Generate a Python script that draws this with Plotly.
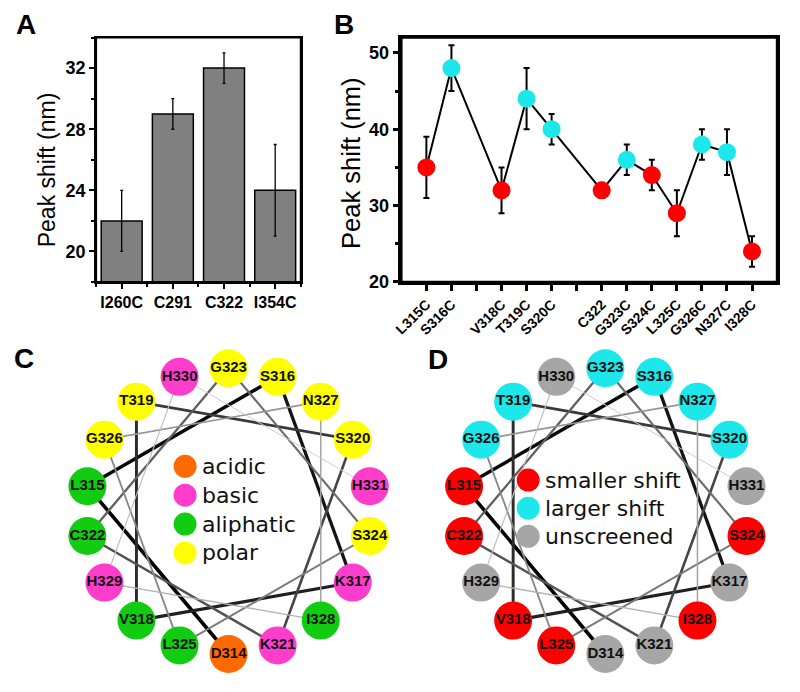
import math
import plotly.graph_objects as go

FONT = "Liberation Sans, Arial, sans-serif"
LEG_FONT = "DejaVu Sans, Liberation Sans, sans-serif"

# ---------------- Panel A data ----------------
a_labels = ["I260C", "C291", "C322", "I354C"]
a_values = [22, 29, 32, 24]
a_err = [2, 1, 1, 3]

# ---------------- Panel B data ----------------
b_residues = [315, 316, 318, 319, 320, 322, 323, 324, 325, 326, 327, 328]
b_labels = ["L315C", "S316C", "V318C", "T319C", "S320C", "C322",
            "G323C", "S324C", "L325C", "G326C", "N327C", "I328C"]
b_values = [35, 48, 32, 44, 40, 32, 36, 34, 29, 38, 37, 24]
b_err = [4, 3, 3, 4, 2, 1, 2, 2, 3, 2, 3, 2]
b_group = ["smaller", "larger", "smaller", "larger", "larger", "smaller",
           "larger", "smaller", "smaller", "larger", "larger", "smaller"]

# ---------------- Helical wheel data ----------------
wheel_names = ["D314", "L315", "S316", "K317", "V318", "T319", "S320", "K321", "C322",
               "G323", "S324", "L325", "G326", "N327", "I328", "H329", "H330", "H331"]
wheel_class = ["acidic", "aliphatic", "polar", "basic", "aliphatic", "polar", "polar", "basic",
               "aliphatic", "polar", "polar", "aliphatic", "polar", "polar", "aliphatic",
               "basic", "basic", "basic"]
wheel_shift = ["unscreened", "smaller shift", "larger shift", "unscreened", "smaller shift",
               "larger shift", "larger shift", "unscreened", "smaller shift", "larger shift",
               "smaller shift", "smaller shift", "larger shift", "larger shift", "smaller shift",
               "unscreened", "unscreened", "unscreened"]

class_order = ["acidic", "basic", "aliphatic", "polar"]
shift_order = ["smaller shift", "larger shift", "unscreened"]

class_colors = {"acidic": "#FF6A00", "basic": "#FF3DCC", "aliphatic": "#11CC11", "polar": "#FFFF00"}
shift_colors = {"smaller shift": "#FF0000", "larger shift": "#1CE8EC", "unscreened": "#A6A6A6"}
group_colors = {"smaller": "#FF0000", "larger": "#1CE8EC"}

# the page places the figure 8 px right and 8 px down; positions below are screen pixels
W, H, OFF = 800, 692, 8


def px_x(p):
    return (p - OFF) / W


def px_y(p):
    return 1 - (p - OFF) / H


fig = go.Figure()

# ---------------- Panel A ----------------
a_x = list(range(len(a_labels)))
fig.add_trace(go.Bar(
    x=a_x, y=a_values, width=0.8,
    marker=dict(color="#808080", line=dict(color="black", width=1.5)),
    error_y=dict(type="data", array=a_err, color="black", thickness=1.3, width=1.5),
    xaxis="x", yaxis="y", showlegend=False,
))

# ---------------- Panel B ----------------
fig.add_trace(go.Scatter(
    x=b_residues, y=b_values, mode="lines+markers",
    line=dict(color="black", width=2),
    marker=dict(size=18, color=[group_colors[g] for g in b_group], line=dict(width=0)),
    error_y=dict(type="data", array=b_err, color="black", thickness=2, width=3),
    xaxis="x2", yaxis="y2", showlegend=False, cliponaxis=False,
))

# ---------------- Panels C & D (helical wheels, screen-pixel coordinates) ----------------
R = 145
centers = [(222, 518.5), (603, 518.5)]
color_sets = [[class_colors[c] for c in wheel_class], [shift_colors[s] for s in wheel_shift]]

nseg = len(wheel_names) - 1
for (cx, cy), cols in zip(centers, color_sets):
    xs, ys = [], []
    for name in wheel_names:
        n = int(name[1:])
        th = math.radians(270 - 100 * (n - 314))
        xs.append(cx + R * math.cos(th))
        ys.append(cy - R * math.sin(th))
    for i in range(nseg):
        t = i / (nseg - 1)
        g = int(205 * t ** 1.1)
        w = 3.6 - 2.6 * t
        fig.add_trace(go.Scatter(
            x=[xs[i], xs[i + 1]], y=[ys[i], ys[i + 1]], mode="lines",
            line=dict(color=f"rgb({g},{g},{g})", width=w),
            xaxis="x3", yaxis="y3", showlegend=False, hoverinfo="skip",
        ))
    fig.add_trace(go.Scatter(
        x=xs, y=ys, mode="markers+text", text=wheel_names,
        textposition="middle center",
        textfont=dict(family=FONT, size=15, color="#111111", weight="bold"),
        marker=dict(size=38, color=cols, line=dict(width=0)),
        xaxis="x3", yaxis="y3", showlegend=False, cliponaxis=False,
    ))

leg_specs = [
    (178, 473, 29.3, class_order, class_colors, 193),
    (525, 487, 28.5, shift_order, shift_colors, 540),
]
annotations = []
for lx, ly, dy, order, cmap, tx in leg_specs:
    lys = [ly + k * dy for k in range(len(order))]
    fig.add_trace(go.Scatter(
        x=[lx] * len(order), y=lys, mode="markers",
        marker=dict(size=23, color=[cmap[o] for o in order], line=dict(width=0)),
        xaxis="x3", yaxis="y3", showlegend=False, cliponaxis=False,
    ))
    for o, yy in zip(order, lys):
        annotations.append(dict(
            x=tx, y=yy, xref="x3", yref="y3", text=o, showarrow=False,
            xanchor="left", yanchor="middle",
            font=dict(family=LEG_FONT, size=22, color="#111111"),
        ))

# panel letters (top ones anchored to the very top of the figure)
for letter, px, py, anchor in [("A", 17, 8, "top"), ("B", 339, 8, "top"),
                               ("C", 15, 364, "middle"), ("D", 434, 365, "middle")]:
    annotations.append(dict(
        x=px_x(px), y=px_y(py), xref="paper", yref="paper", text=letter,
        showarrow=False, xanchor="center", yanchor=anchor, borderpad=0,
        font=dict(family=FONT, size=28, color="black", weight="bold"),
    ))

for px, py, size in [(38, 172, 23), (346, 166, 25.5)]:
    annotations.append(dict(
        x=px_x(px), y=px_y(py), xref="paper", yref="paper",
        text="Peak shift (nm)", textangle=-90, showarrow=False,
        xanchor="center", yanchor="middle",
        font=dict(family=FONT, size=size, color="black"),
    ))

b_ticks = list(range(315, 329))
b_map = dict(zip(b_residues, b_labels))
b_ticktext = [b_map.get(t, "") for t in b_ticks]

y_dom = [px_y(286), px_y(38)]

shapes = [
    dict(type="rect", xref="x domain", yref="y domain", x0=0, x1=1, y0=0, y1=1,
         line=dict(color="black", width=2), layer="above"),
    dict(type="rect", xref="x2 domain", yref="y2 domain", x0=0, x1=1, y0=0, y1=1,
         line=dict(color="black", width=2.5), layer="above"),
]

fig.update_layout(
    width=W, height=H,
    margin=dict(l=0, r=0, t=0, b=0),
    paper_bgcolor="white", plot_bgcolor="white",
    showlegend=False,
    xaxis=dict(domain=[px_x(88), px_x(295)], anchor="y", range=[-0.5, 3.5],
               tickmode="array", tickvals=a_x, ticktext=a_labels,
               tickfont=dict(family=FONT, size=16, color="black", weight="bold"),
               showline=True, linecolor="black", linewidth=2, mirror=True,
               ticks="outside", ticklen=5, tickwidth=2, tickcolor="black",
               showgrid=False, zeroline=False,
               minor=dict(tickmode="array", tickvals=[-0.5, 0.5, 1.5, 2.5, 3.5],
                          ticks="outside", ticklen=3, tickwidth=2, tickcolor="black")),
    yaxis=dict(domain=y_dom, anchor="x", range=[18, 34],
               tickmode="linear", tick0=20, dtick=4,
               tickfont=dict(family=FONT, size=18, color="black", weight="bold"),
               showline=True, linecolor="black", linewidth=2, mirror=True,
               ticks="outside", ticklen=5, tickwidth=2, tickcolor="black",
               showgrid=False, zeroline=False,
               minor=dict(tickmode="linear", tick0=18, dtick=2, ticks="outside",
                          ticklen=3, tickwidth=2, tickcolor="black")),
    xaxis2=dict(domain=[px_x(396.7), px_x(776.7)], anchor="y2", range=[314, 329],
                tickmode="array", tickvals=b_ticks, ticktext=b_ticktext, tickangle=-45,
                tickfont=dict(family=FONT, size=14, color="black", weight="bold"),
                showline=True, linecolor="black", linewidth=2.5, mirror=True,
                ticks="outside", ticklen=6, tickwidth=2.5, tickcolor="black",
                showgrid=False, zeroline=False),
    yaxis2=dict(domain=y_dom, anchor="x2", range=[20, 52],
                tickmode="linear", tick0=20, dtick=10,
                tickfont=dict(family=FONT, size=18, color="black", weight="bold"),
                showline=True, linecolor="black", linewidth=2.5, mirror=True,
                ticks="outside", ticklen=6, tickwidth=2.5, tickcolor="black",
                showgrid=False, zeroline=False,
                minor=dict(tickmode="linear", tick0=25, dtick=10, ticks="outside",
                           ticklen=4, tickwidth=2.5, tickcolor="black")),
    # wheel axes: data units equal screen pixels
    xaxis3=dict(domain=[0, 1], anchor="y3", range=[OFF, W + OFF], visible=False,
                fixedrange=True),
    yaxis3=dict(domain=[0, px_y(340)], anchor="x3", range=[H + OFF, 340], visible=False,
                fixedrange=True),
    annotations=annotations,
    shapes=shapes,
)

fig.write_html("out.html")
